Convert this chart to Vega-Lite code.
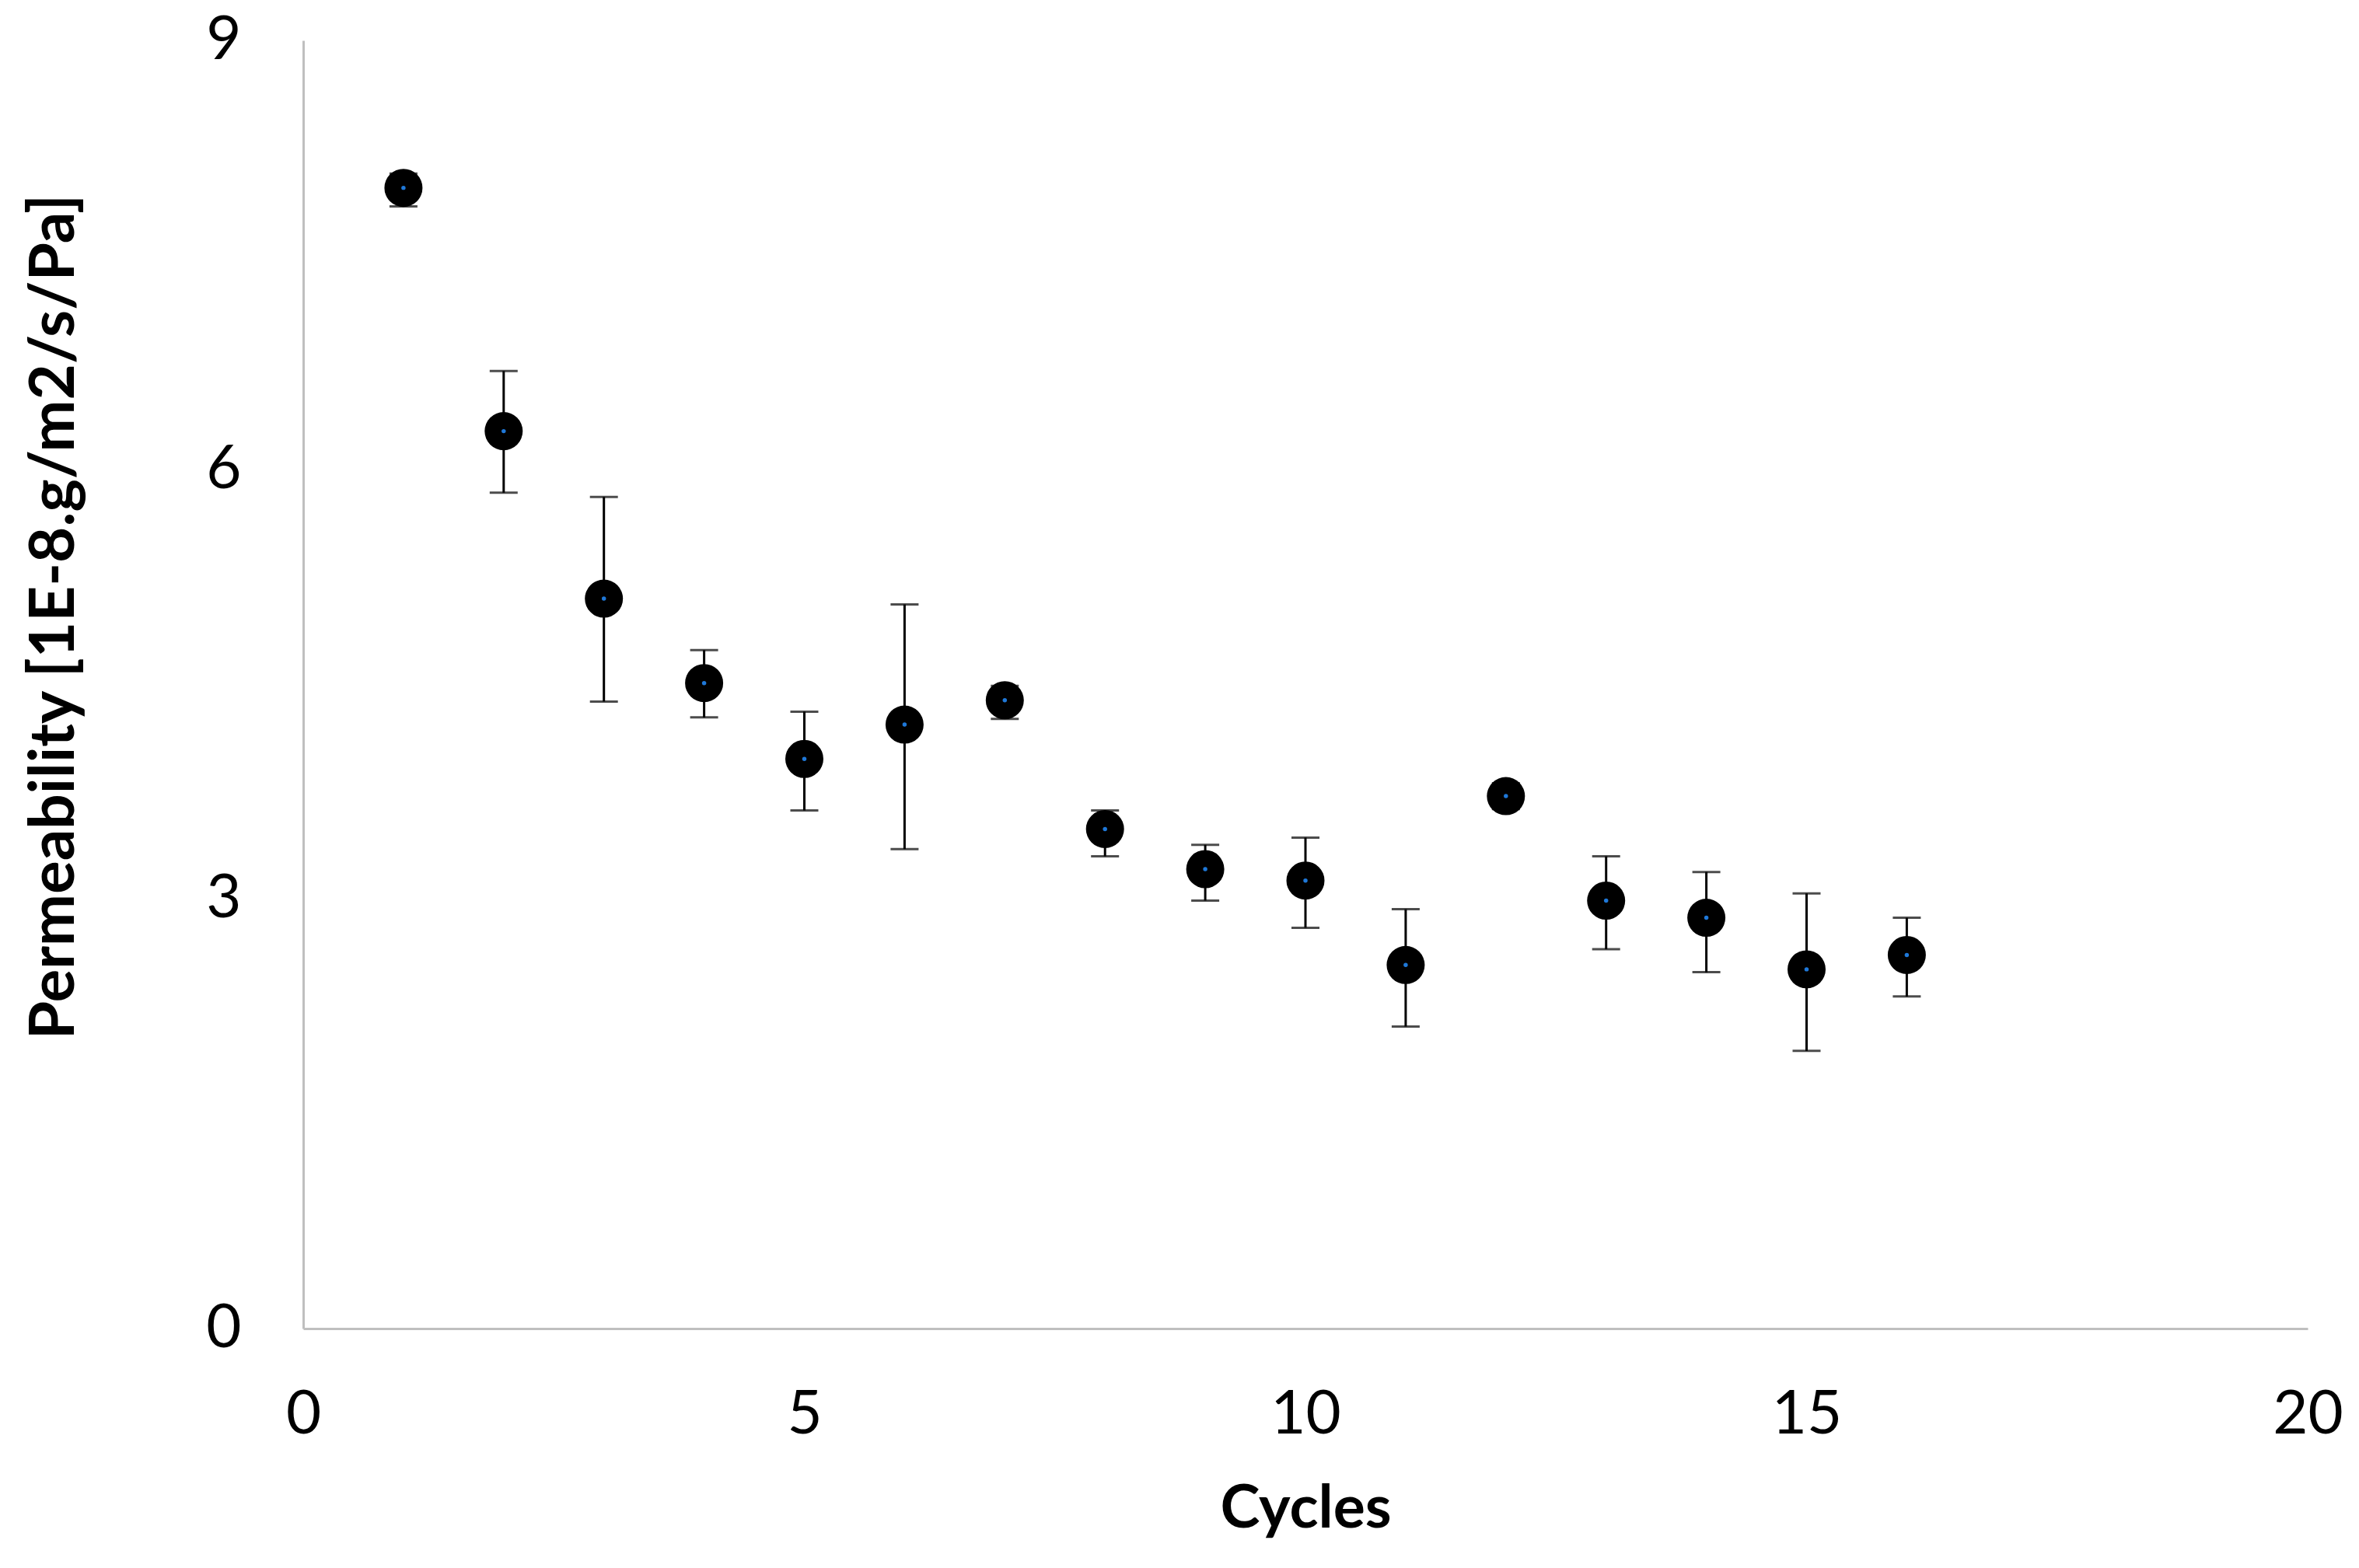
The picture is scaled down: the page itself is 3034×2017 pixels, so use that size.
{
  "$schema": "https://vega.github.io/schema/vega-lite/v6.json",
  "autosize": {"type": "none"},
  "padding": {"left": 390, "top": 52, "right": 66, "bottom": 308},
  "width": 2578,
  "height": 1657,
  "background": "white",
  "config": {
    "view": {"stroke": null},
    "font": "Lato",
    "axis": {
      "grid": false,
      "ticks": false,
      "domainColor": "#bfbfbf",
      "domainWidth": 3,
      "labelFont": "Lato",
      "labelFontSize": 78,
      "labelColor": "#000000",
      "labelFlush": false,
      "labelOverlap": false,
      "titleFont": "Lato",
      "titleFontWeight": "bold",
      "titleColor": "#000000"
    }
  },
  "data": {
    "values": [
      {"cycle": 1, "perm": 7.97, "lo": 7.84, "hi": 8.07},
      {"cycle": 2, "perm": 6.27, "lo": 5.84, "hi": 6.69},
      {"cycle": 3, "perm": 5.10, "lo": 4.38, "hi": 5.81},
      {"cycle": 4, "perm": 4.51, "lo": 4.27, "hi": 4.74},
      {"cycle": 5, "perm": 3.98, "lo": 3.62, "hi": 4.31},
      {"cycle": 6, "perm": 4.22, "lo": 3.35, "hi": 5.06},
      {"cycle": 7, "perm": 4.39, "lo": 4.26, "hi": 4.49},
      {"cycle": 8, "perm": 3.49, "lo": 3.30, "hi": 3.62},
      {"cycle": 9, "perm": 3.21, "lo": 2.99, "hi": 3.38},
      {"cycle": 10, "perm": 3.13, "lo": 2.80, "hi": 3.43},
      {"cycle": 11, "perm": 2.54, "lo": 2.11, "hi": 2.93},
      {"cycle": 12, "perm": 3.72, "lo": 3.63, "hi": 3.81},
      {"cycle": 13, "perm": 2.99, "lo": 2.65, "hi": 3.30},
      {"cycle": 14, "perm": 2.87, "lo": 2.49, "hi": 3.19},
      {"cycle": 15, "perm": 2.51, "lo": 1.94, "hi": 3.04},
      {"cycle": 16, "perm": 2.61, "lo": 2.32, "hi": 2.87}
    ]
  },
  "encoding": {
    "x": {
      "field": "cycle",
      "type": "quantitative",
      "scale": {"domain": [0, 20], "nice": false},
      "axis": {
        "values": [0, 5, 10, 15, 20],
        "format": "d",
        "title": "Cycles",
        "titleFontSize": 77,
        "labelPadding": 72,
        "titleX": 1289,
        "titleY": 232,
        "titleBaseline": "middle",
        "titleAlign": "center"
      }
    }
  },
  "layer": [
    {
      "mark": {
        "type": "errorbar",
        "ticks": {"size": 36, "thickness": 3, "color": "#000000"},
        "rule": {"strokeWidth": 3, "color": "#000000"}
      },
      "encoding": {
        "y": {
          "field": "lo",
          "type": "quantitative",
          "scale": {"domain": [0, 9], "nice": false},
          "title": "Permeability [1E-8.g/m2/s/Pa]"
        },
        "y2": {"field": "hi"}
      }
    },
    {
      "mark": {"type": "point", "filled": true, "shape": "circle", "size": 2400, "color": "#000000", "opacity": 1},
      "encoding": {
        "y": {
          "field": "perm",
          "type": "quantitative",
          "scale": {"domain": [0, 9], "nice": false},
          "axis": {
            "values": [0, 3, 6, 9],
            "format": "d",
            "title": "Permeability [1E-8.g/m2/s/Pa]",
            "titleFontSize": 80,
            "labelPadding": 80,
            "titleAngle": -90,
            "titleX": -320,
            "titleY": 741,
            "titleBaseline": "middle",
            "titleAlign": "center"
          }
        }
      }
    },
    {
      "mark": {"type": "point", "filled": true, "shape": "circle", "size": 30, "color": "#1f78d8", "opacity": 1},
      "encoding": {
        "y": {"field": "perm", "type": "quantitative"}
      }
    }
  ]
}
